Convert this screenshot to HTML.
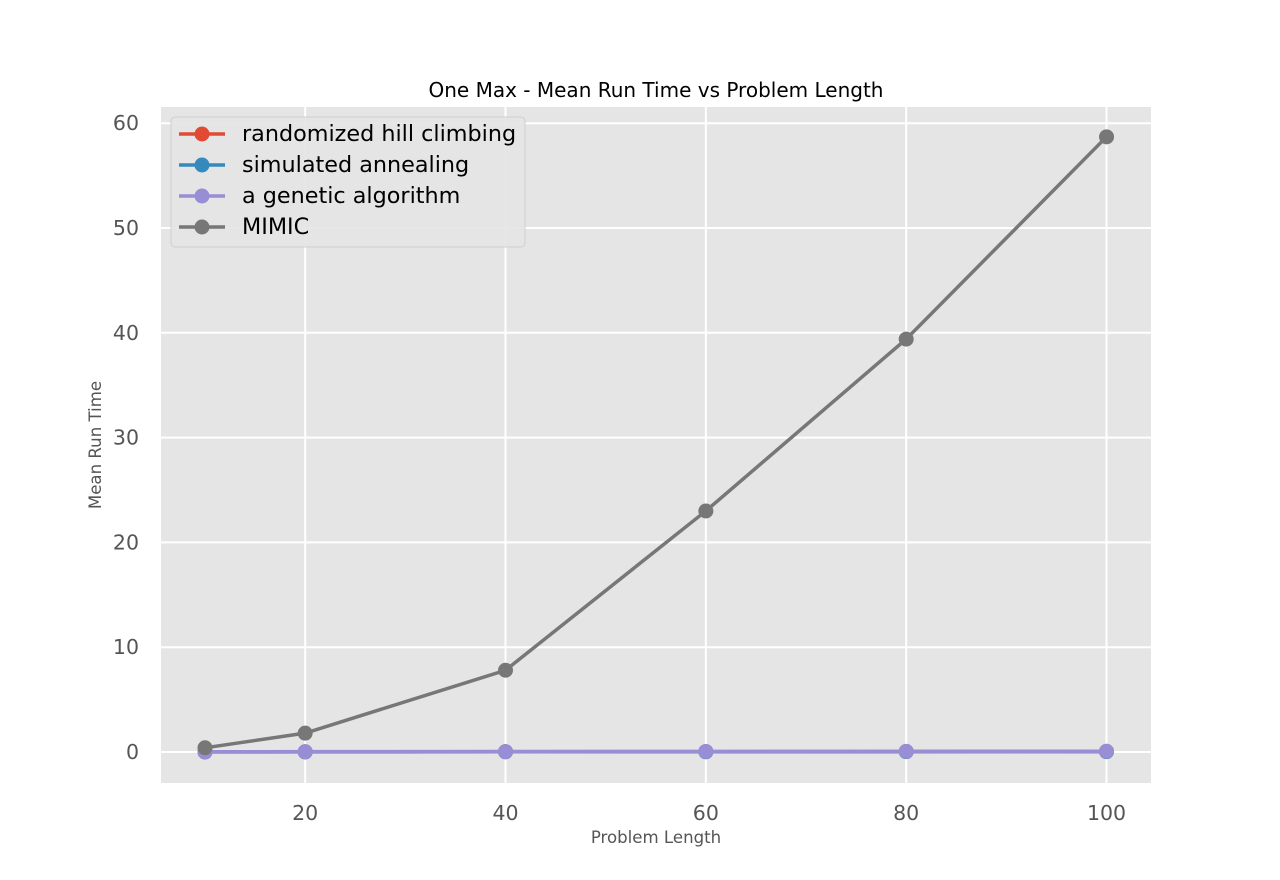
<!DOCTYPE html>
<html><head><meta charset="utf-8"><style>
body{margin:0;background:#fff}
svg{display:block;font-family:"DejaVu Sans","Liberation Sans",sans-serif}
</style></head><body>
<svg id="chart" width="1280" height="880" xmlns="http://www.w3.org/2000/svg">
<rect x="0" y="0" width="1280" height="880" fill="#fff"/>
<rect x="161" y="107" width="990" height="676" fill="#e5e5e5"/>
<g id="grid"></g>
<g id="ticks"></g>
<g id="series"></g>
<text x="656" y="97" text-anchor="middle" font-size="20" fill="#000">One Max - Mean Run Time vs Problem Length</text>
<text x="656" y="843" text-anchor="middle" font-size="16.6" fill="#555">Problem Length</text>
<text transform="translate(101,445) rotate(-90)" text-anchor="middle" font-size="16.6" fill="#555">Mean Run Time</text>
<g id="legend"></g>
</svg>
<script>
const categories=[10,20,40,60,80,100];
const seriesNames=["randomized hill climbing","simulated annealing","a genetic algorithm","MIMIC"];
const rhcValues=[0.01,0.02,0.03,0.04,0.05,0.06];
const saValues=[0.01,0.01,0.02,0.02,0.03,0.03];
const gaValues=[0.02,0.03,0.04,0.05,0.06,0.07];
const mimicValues=[0.4,1.8,7.8,23.0,39.4,58.7];
const xTicks=[20,40,60,80,100];
const yTicks=[0,10,20,30,40,50,60];
const colors=["#e24a33","#348abd","#988ed5","#777777"];
const allSeries=[rhcValues,saValues,gaValues,mimicValues];
const NS="http://www.w3.org/2000/svg";
function xs(v){return 205+(v-10)*10.017;}
function ys(v){return 752-v*10.48;}
function mk(t,a,p){const e=document.createElementNS(NS,t);for(const k in a)e.setAttribute(k,a[k]);p.appendChild(e);return e;}
const grid=document.getElementById('grid'),ticks=document.getElementById('ticks'),ser=document.getElementById('series'),leg=document.getElementById('legend');
xTicks.forEach(t=>{
 const l=mk('line',{x1:xs(t),x2:xs(t),y1:107,y2:783,stroke:'#fff','stroke-width':2},grid);
 
 
 const tx=mk('text',{x:xs(t),y:820,'text-anchor':'middle','font-size':20.5,fill:'#555'},ticks);tx.textContent=t;
 
 
});
yTicks.forEach(t=>{
 const l=mk('line',{x1:161,x2:1151,y1:ys(t),y2:ys(t),stroke:'#fff','stroke-width':2},grid);
 
 
 const tx=mk('text',{x:139,y:ys(t)+7,'text-anchor':'end','font-size':20.5,fill:'#555'},ticks);tx.textContent=t;
 
 
});
allSeries.forEach((vals,i)=>{
 const g=mk('g',{},ser);
 
 
 const pts=vals.map((v,j)=>xs(categories[j])+','+ys(v)).join(' ');
 const pl=mk('polyline',{points:pts,fill:'none',stroke:colors[i],'stroke-width':3.5},g);
 
 
 vals.forEach((v,j)=>{
  const c=mk('circle',{cx:xs(categories[j]),cy:ys(v),r:7.5,fill:colors[i]},g);
  
  
 });
});
const box=mk('rect',{x:171,y:117,width:354,height:130,rx:4,fill:'#e5e5e5',stroke:'#ccc','stroke-width':1,opacity:0.9},leg);


seriesNames.forEach((n,i)=>{
 const y=134+i*31;
 const g=mk('g',{},leg);
 
 
 mk('line',{x1:179,x2:225,y1:y,y2:y,stroke:colors[i],'stroke-width':3.5},g);
 mk('circle',{cx:202,cy:y,r:7.5,fill:colors[i]},g);
 const t=mk('text',{x:242,y:y+7,'font-size':22.3,fill:'#000'},g);t.textContent=n;
});
</script>
</body></html>
